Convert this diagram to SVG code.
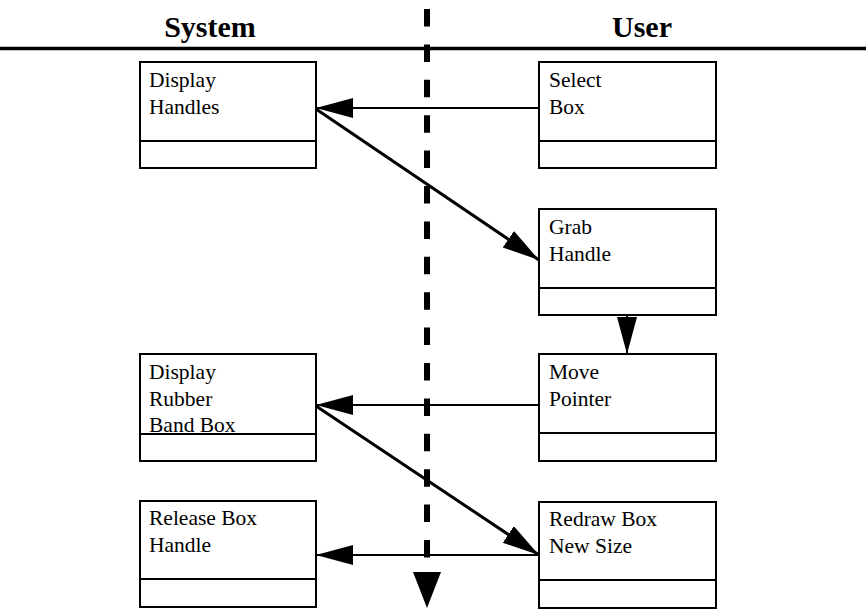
<svg xmlns="http://www.w3.org/2000/svg" width="866" height="610" viewBox="0 0 866 610">
<defs>
<style>
.box{fill:#fff;stroke:#000;stroke-width:2}
.div{stroke:#000;stroke-width:2}
.t{font-family:"Liberation Serif","Times New Roman",serif;font-size:21.5px;fill:#000}
.h{font-family:"Liberation Serif","Times New Roman",serif;font-size:30px;font-weight:bold;fill:#000;text-anchor:middle}
.c{fill:none;stroke:#000;stroke-width:2}
.d{fill:none;stroke:#000;stroke-width:3}
</style>
<marker id="ah" markerUnits="userSpaceOnUse" markerWidth="38" markerHeight="22" refX="37" refY="10" orient="auto">
<path d="M0,0 L37,10 L0,20 z" fill="#000"/>
</marker>
</defs>
<rect width="866" height="610" fill="#fff"/>
<g id="lanes">
<text class="h" x="210" y="37">System</text>
<text class="h" x="642" y="37">User</text>
<line x1="0" y1="48.5" x2="866" y2="48.5" stroke="#000" stroke-width="3.5"/>
<line x1="427" y1="9" x2="427" y2="558" stroke="#000" stroke-width="6" stroke-dasharray="17.5 17.9"/>
<path d="M413,572 L441,572 L427,608 z" fill="#000"/>
</g>
<g id="display-handles">
<rect class="box" x="140" y="62" width="176" height="106"/>
<line class="div" x1="140" y1="141" x2="317" y2="141"/>
<text class="t" x="149" y="87">Display</text>
<text class="t" x="149" y="114">Handles</text>
</g>
<g id="select-box">
<rect class="box" x="539" y="62" width="177" height="106"/>
<line class="div" x1="539" y1="141" x2="717" y2="141"/>
<text class="t" x="549" y="87">Select</text>
<text class="t" x="549" y="114">Box</text>
</g>
<g id="grab-handle">
<rect class="box" x="539" y="209" width="177" height="106"/>
<line class="div" x1="539" y1="288" x2="717" y2="288"/>
<text class="t" x="549" y="234">Grab</text>
<text class="t" x="549" y="261">Handle</text>
</g>
<g id="move-pointer">
<rect class="box" x="539" y="354" width="177" height="107"/>
<line class="div" x1="539" y1="433" x2="717" y2="433"/>
<text class="t" x="549" y="379">Move</text>
<text class="t" x="549" y="406">Pointer</text>
</g>
<g id="display-rubber-band-box">
<rect class="box" x="140" y="354" width="176" height="107"/>
<line class="div" x1="140" y1="434" x2="317" y2="434"/>
<text class="t" x="149" y="379">Display</text>
<text class="t" x="149" y="406">Rubber</text>
<text class="t" x="149" y="432">Band Box</text>
</g>
<g id="release-box-handle">
<rect class="box" x="140" y="501" width="176" height="106"/>
<line class="div" x1="140" y1="579" x2="317" y2="579"/>
<text class="t" x="149" y="525">Release Box</text>
<text class="t" x="149" y="552">Handle</text>
</g>
<g id="redraw-box-new-size">
<rect class="box" x="539" y="502" width="177" height="106"/>
<line class="div" x1="539" y1="580" x2="717" y2="580"/>
<text class="t" x="549" y="526">Redraw Box</text>
<text class="t" x="549" y="553">New Size</text>
</g>
<g id="connectors">
<line class="c" x1="539" y1="108" x2="316" y2="108" marker-end="url(#ah)"/>
<line class="d" x1="316" y1="109" x2="539" y2="260" marker-end="url(#ah)"/>
<line class="c" x1="627" y1="315" x2="627" y2="354" marker-end="url(#ah)"/>
<line class="c" x1="539" y1="405" x2="316" y2="405" marker-end="url(#ah)"/>
<line class="d" x1="316" y1="406" x2="539" y2="555" marker-end="url(#ah)"/>
<line class="c" x1="539" y1="555" x2="316" y2="555" marker-end="url(#ah)"/>
</g>
</svg>
